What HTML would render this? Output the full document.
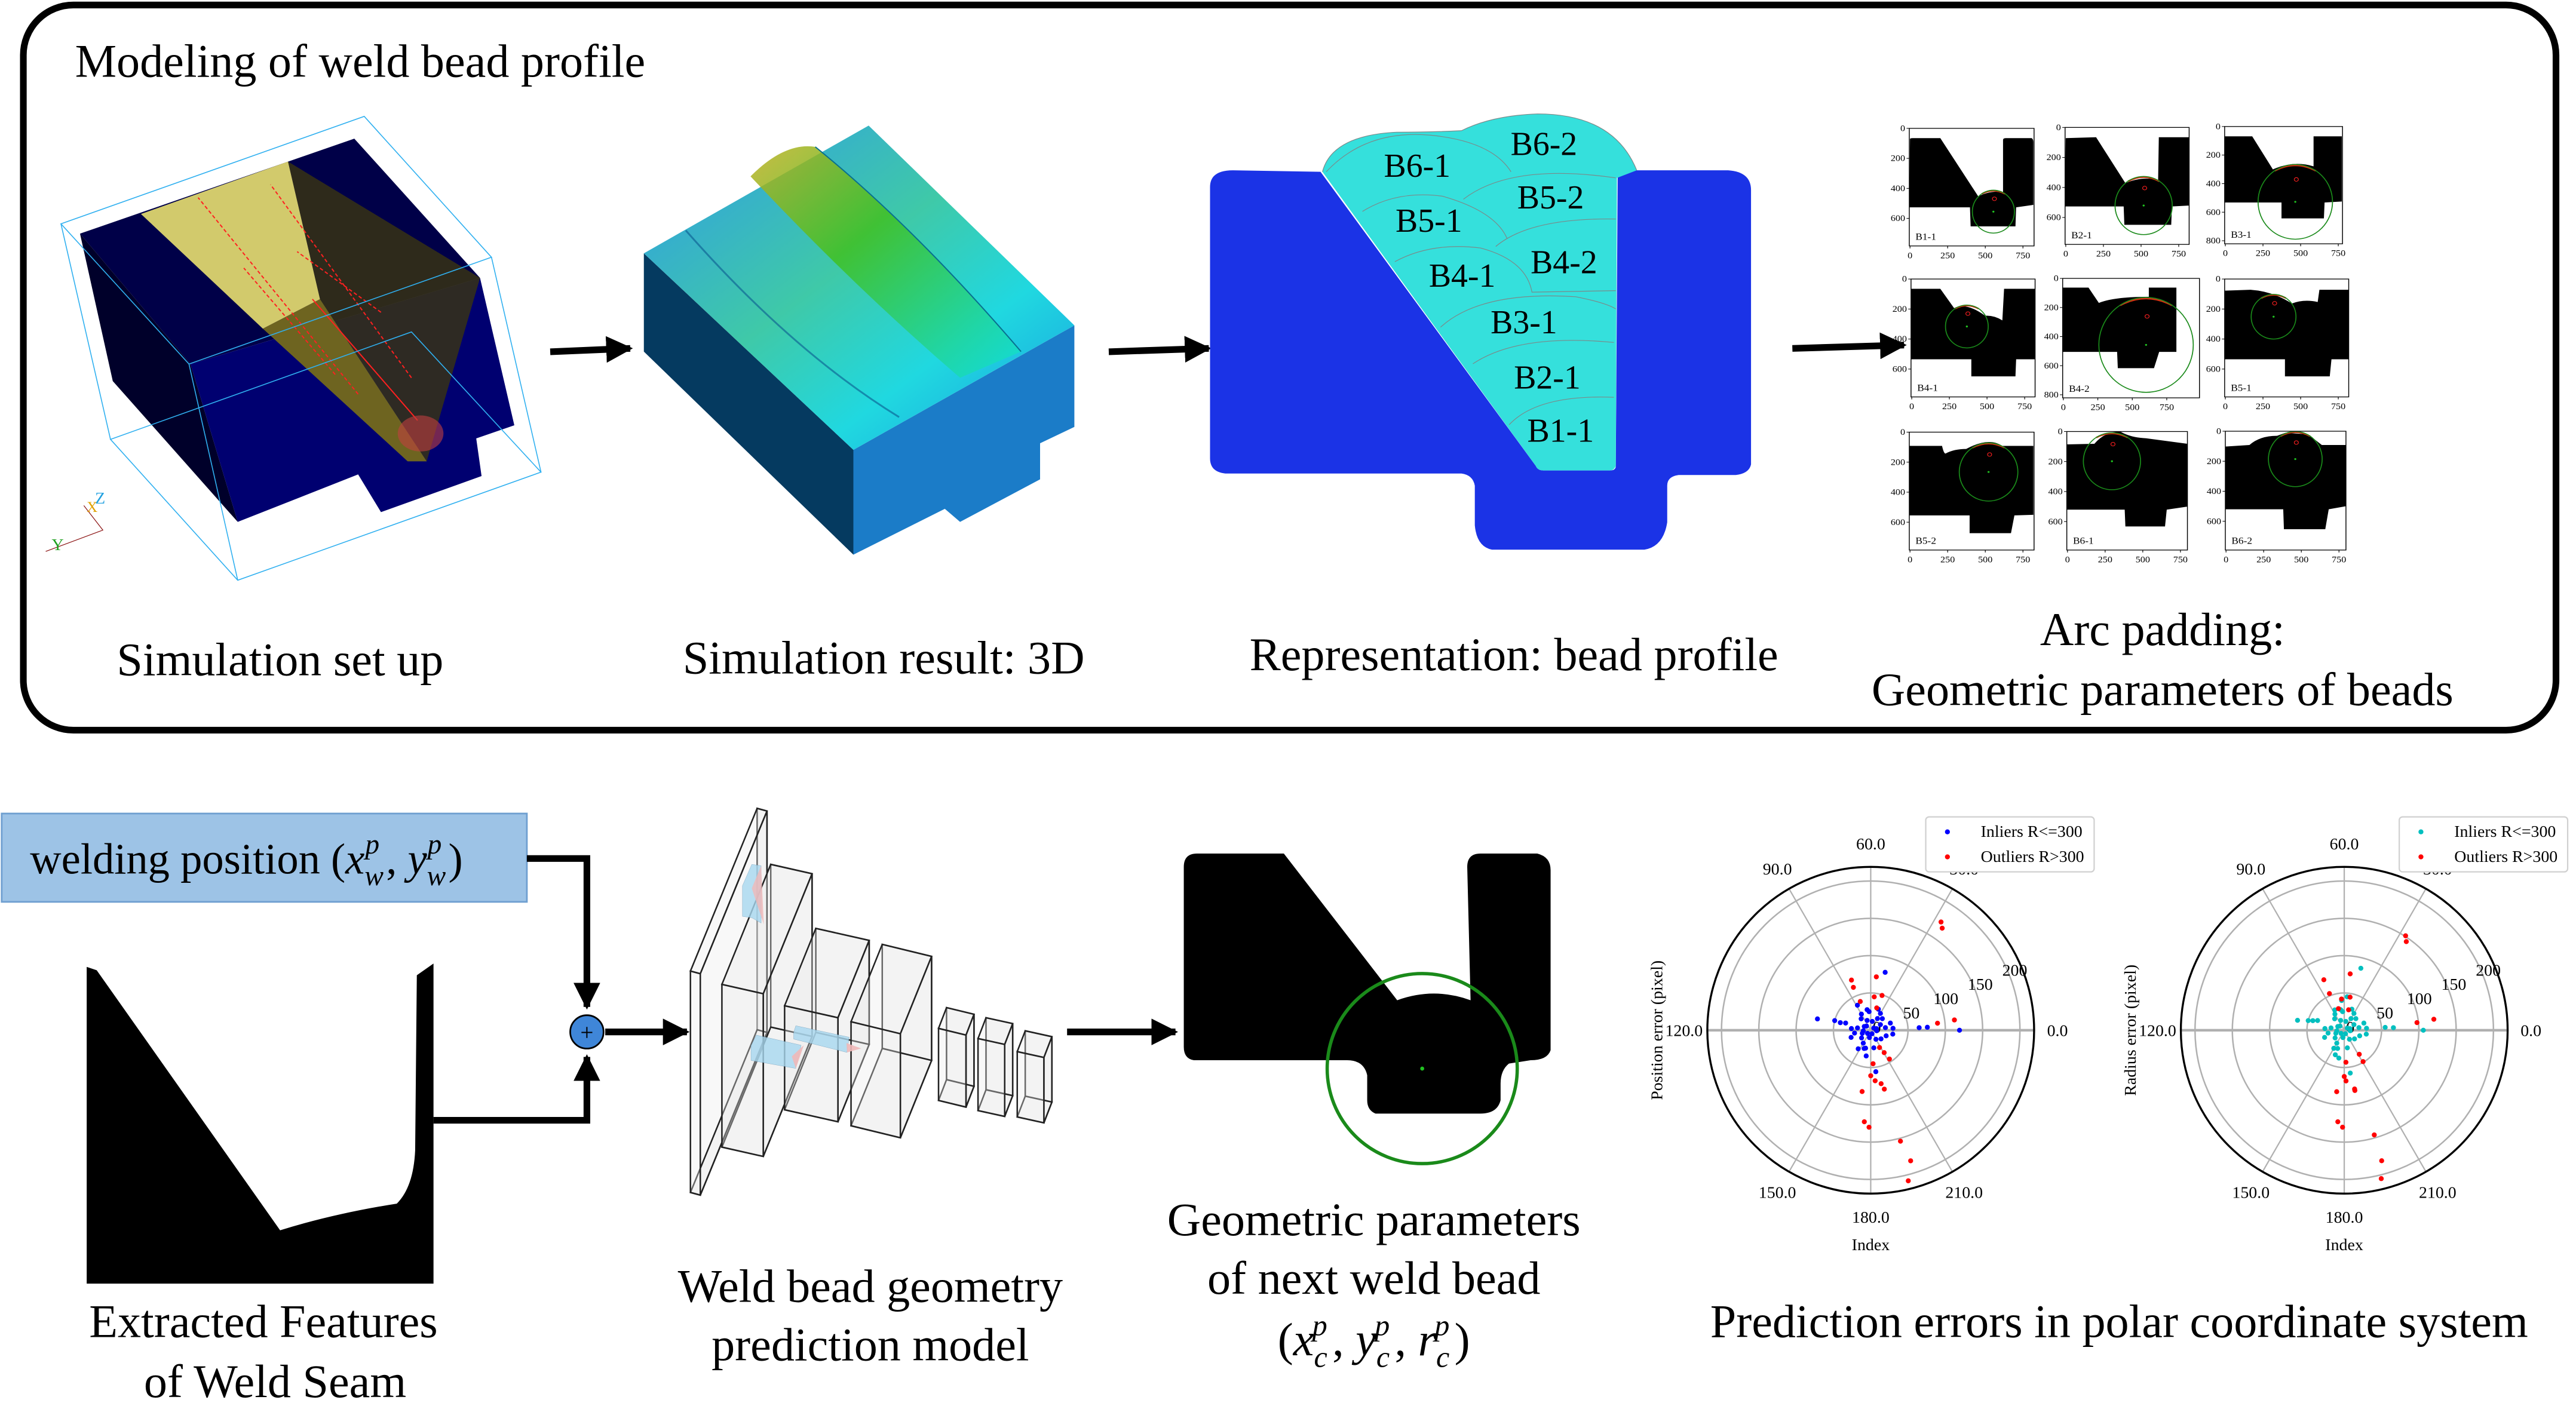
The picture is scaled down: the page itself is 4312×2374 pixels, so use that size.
<!DOCTYPE html>
<html><head><meta charset="utf-8"><style>
html,body{margin:0;padding:0;background:#fff;}
svg{display:block;}
text{font-family:"Liberation Serif",serif;fill:#000;}
</style></head><body>
<svg id="root" width="4312" height="2374" viewBox="0 0 1545 850.6" preserveAspectRatio="none" xmlns="http://www.w3.org/2000/svg">
<defs>
<marker id="ah" viewBox="0 0 10 10" refX="9" refY="5" markerWidth="4" markerHeight="4" orient="auto"><path d="M0,0 L10,5 L0,10 Z" fill="#000"/></marker>
<linearGradient id="simTop" x1="0" y1="0" x2="1" y2="1"><stop offset="0" stop-color="#2f9be8"/><stop offset="0.45" stop-color="#3fc9a8"/><stop offset="0.7" stop-color="#20d8e0"/><stop offset="1" stop-color="#1a9ae0"/></linearGradient>
<linearGradient id="ridge" x1="0" y1="0" x2="1" y2="1"><stop offset="0" stop-color="#c0b020"/><stop offset="0.4" stop-color="#40c020"/><stop offset="1" stop-color="#10e0d8"/></linearGradient>
</defs>

<rect x="14" y="3" width="1519" height="435" rx="30" fill="none" stroke="#000" stroke-width="4"/>
<text x="45" y="46" font-size="28">Modeling of weld bead profile</text>

<g>
<g transform="translate(0 53.7) scale(0.457 0.1965)">
<polygon points="105,440 465,150 630,575 250,838" fill="#000048"/>
<polygon points="105,440 250,838 312,1320 148,890" fill="#00002a"/>
<polygon points="250,838 630,575 675,1025 625,1065 632,1180 500,1290 470,1175 312,1320" fill="#000070"/>
<polygon points="185,380 378,220 420,640 345,730" fill="#d2ca6c"/>
<polygon points="378,220 630,575 560,1135 420,640" fill="#3a3410" opacity="0.8"/>
<polygon points="345,730 420,640 560,1135 535,1135" fill="#6e6420"/>
<g stroke="#ff2020" stroke-width="2" fill="none" stroke-dasharray="6 4">
<line x1="470" y1="930" x2="260" y2="330" vector-effect="non-scaling-stroke"/>
<line x1="540" y1="880" x2="355" y2="290" vector-effect="non-scaling-stroke"/>
<line x1="440" y1="870" x2="320" y2="545" vector-effect="non-scaling-stroke"/>
<line x1="500" y1="680" x2="390" y2="495" vector-effect="non-scaling-stroke"/>
</g>
<line x1="548" y1="1010" x2="410" y2="640" stroke="#ff2020" stroke-width="2" vector-effect="non-scaling-stroke"/>
<ellipse cx="552" cy="1050" rx="30" ry="55" fill="#c04040" opacity="0.6"/>
<g fill="none" stroke="#30b0f0" stroke-width="1.6">
<polygon points="80,410 478,82 645,512 248,838" vector-effect="non-scaling-stroke"/>
<polygon points="145,1068 540,740 710,1168 312,1498" vector-effect="non-scaling-stroke"/>
<line x1="80" y1="410" x2="145" y2="1068" vector-effect="non-scaling-stroke"/>
<line x1="248" y1="838" x2="312" y2="1498" vector-effect="non-scaling-stroke"/>
<line x1="645" y1="512" x2="710" y2="1168" vector-effect="non-scaling-stroke"/>
</g>
<g stroke="#8a1010" stroke-width="1.2" fill="none"><polyline points="60,1410 135,1345 110,1270" vector-effect="non-scaling-stroke"/></g>
</g>
<text x="57" y="302" font-size="10" style="fill:#20a0e0" font-family="Liberation Sans">Z</text>
<text x="52" y="307" font-size="9" style="fill:#e0a000" font-family="Liberation Sans">X</text>
<text x="31" y="330" font-size="10" style="fill:#20a020" font-family="Liberation Sans">Y</text>
</g>

<line x1="330" y1="211" x2="378" y2="209" stroke="#000" stroke-width="4" marker-end="url(#ah)"/>

<g transform="translate(0 53.7) scale(0.457 0.1965)">
<polygon points="845,500 1120,1100 1120,1420 845,800" fill="#053a60"/>
<polygon points="1120,1100 1410,720 1410,1030 1365,1080 1365,1190 1260,1320 1240,1280 1120,1420" fill="#1b7cc8"/>
<polygon points="845,500 1140,110 1410,720 1120,1100" fill="url(#simTop)"/>
<path d="M985,265 Q1030,160 1070,175 Q1200,420 1340,800 L1260,880 Q1120,600 985,265 Z" fill="url(#ridge)" opacity="0.85"/>
<path d="M1070,175 Q1200,420 1340,800" stroke="#087090" stroke-width="2" fill="none" vector-effect="non-scaling-stroke"/>
<path d="M900,430 Q1040,800 1180,1000" stroke="#0a5a90" stroke-width="3" fill="none" vector-effect="non-scaling-stroke" opacity="0.6"/>
</g>

<line x1="665" y1="211" x2="725" y2="209" stroke="#000" stroke-width="4" marker-end="url(#ah)"/>

<g>
<g transform="translate(716.6 53.7) scale(0.2285 0.1828)">
<path d="M40,320 Q40,265 100,265 L330,270 L895,1235 Q900,1250 915,1250 L1090,1250 Q1105,1250 1105,1235 L1110,290 Q1115,265 1140,265 L1400,265 Q1460,270 1460,330 L1460,1230 Q1455,1260 1420,1265 L1270,1265 Q1240,1270 1240,1300 L1240,1420 Q1230,1500 1180,1510 L780,1510 Q740,1500 735,1430 L735,1300 Q730,1265 700,1260 L80,1260 Q40,1255 40,1210 Z" fill="#1b33e6"/>
<path d="M335,270 Q360,150 530,140 Q620,140 700,135 Q780,85 900,80 Q1100,80 1160,265 L1108,290 L1105,1235 Q1100,1250 1090,1250 L915,1250 Q900,1250 895,1235 Z" fill="#35e0dc"/>
<g fill="none" stroke="#7a8a8a" stroke-width="1.2">
<path d="M825,1100 Q900,1000 1100,1010" vector-effect="non-scaling-stroke"/>
<path d="M730,900 Q850,800 1100,830" vector-effect="non-scaling-stroke"/>
<path d="M645,780 Q750,660 1000,680 Q1080,700 1105,720" vector-effect="non-scaling-stroke"/>
<path d="M525,565 Q620,500 750,520 Q870,560 885,665 L1105,660" vector-effect="non-scaling-stroke"/>
<path d="M790,515 Q880,420 1105,425" vector-effect="non-scaling-stroke"/>
<path d="M440,400 Q530,330 650,350 Q790,400 820,490" vector-effect="non-scaling-stroke"/>
<path d="M705,360 Q830,240 1105,290" vector-effect="non-scaling-stroke"/>
<path d="M345,270 Q450,130 620,150 Q780,170 830,270" vector-effect="non-scaling-stroke"/>
<path d="M335,270 Q360,150 530,140 Q620,140 700,135 Q780,85 900,80 Q1100,80 1160,265" vector-effect="non-scaling-stroke"/>
</g>
</g>
<g font-size="20" text-anchor="middle">
<text x="850" y="106">B6-1</text>
<text x="926" y="93">B6-2</text>
<text x="930" y="125">B5-2</text>
<text x="857" y="139">B5-1</text>
<text x="938" y="164">B4-2</text>
<text x="877" y="172">B4-1</text>
<text x="914" y="200">B3-1</text>
<text x="928" y="233">B2-1</text>
<text x="936" y="265">B1-1</text>
</g>
</g>

<line x1="1075" y1="209" x2="1142" y2="207" stroke="#000" stroke-width="4" marker-end="url(#ah)"/>

<g id="arcgrid" transform="translate(1128.6 64.5) scale(0.2067 0.1837)"></g>

<g font-size="28" text-anchor="middle">
<text x="168" y="405">Simulation set up</text>
<text x="530" y="404">Simulation result: 3D</text>
<text x="908" y="402">Representation: bead profile</text>
<text x="1297" y="387">Arc padding:</text>
<text x="1297" y="423">Geometric parameters of beads</text>
</g>

<rect x="1" y="488" width="315" height="53" fill="#9dc3e6" stroke="#6f9fd0" stroke-width="1"/>
<text x="18" y="524" font-size="26">welding position (<tspan font-style="italic">x</tspan><tspan font-size="17" font-style="italic" dy="7">w</tspan><tspan font-size="17" font-style="italic" dx="-11" dy="-19">p</tspan><tspan dx="4" dy="12">, </tspan><tspan font-style="italic">y</tspan><tspan font-size="17" font-style="italic" dy="7">w</tspan><tspan font-size="17" font-style="italic" dx="-11" dy="-19">p</tspan><tspan dx="4" dy="12">)</tspan></text>
<polyline points="316,515 352,515 352,604" fill="none" stroke="#000" stroke-width="4" marker-end="url(#ah)"/>
<polyline points="260,672 352,672 352,634" fill="none" stroke="#000" stroke-width="4" marker-end="url(#ah)"/>
<path d="M52,580 L58,582 L168,738 Q200,728 238,722 Q248,712 249,690 L250,585 L260,578 L260,770 L52,770 Z" fill="#000"/>
<circle cx="352" cy="619" r="10" fill="#3f86d8" stroke="#000" stroke-width="1"/>
<text x="352" y="624" font-size="14" text-anchor="middle" font-family="Liberation Sans">+</text>
<line x1="363" y1="619" x2="412" y2="619" stroke="#000" stroke-width="4" marker-end="url(#ah)"/>

<g id="cnn" transform="translate(394.1 480.1) scale(0.16)"></g>

<line x1="640" y1="619" x2="705" y2="619" stroke="#000" stroke-width="4" marker-end="url(#ah)"/>
<g>
<path d="M710,520 Q710,512 718,512 L770,512 L838,600 Q860,592 882,600 L880,520 Q880,512 888,512 L922,512 Q930,514 930,522 L930,630 Q928,636 918,636 L905,638 Q900,642 900,650 L900,660 Q898,668 888,668 L825,668 Q820,666 820,660 L820,645 Q818,636 808,636 L716,636 Q710,635 710,628 Z" fill="#000"/>
<circle cx="853" cy="641" r="57" fill="none" stroke="#1a8a1a" stroke-width="2"/>
<circle cx="853" cy="641" r="1.2" fill="#20c020"/>
</g>

<g font-size="28" text-anchor="middle">
<text x="158" y="802">Extracted Features</text>
<text x="165" y="838">of Weld Seam</text>
<text x="522" y="781">Weld bead geometry</text>
<text x="522" y="816">prediction model</text>
<text x="824" y="741">Geometric parameters</text>
<text x="824" y="776">of next weld bead</text>
<text x="824" y="813">(<tspan font-style="italic">x</tspan><tspan font-size="18" font-style="italic" dy="7">c</tspan><tspan font-size="18" font-style="italic" dx="-9" dy="-19">p</tspan><tspan dx="3" dy="12">, </tspan><tspan font-style="italic">y</tspan><tspan font-size="18" font-style="italic" dy="7">c</tspan><tspan font-size="18" font-style="italic" dx="-9" dy="-19">p</tspan><tspan dx="3" dy="12">, </tspan><tspan font-style="italic">r</tspan><tspan font-size="18" font-style="italic" dy="7">c</tspan><tspan font-size="18" font-style="italic" dx="-9" dy="-19">p</tspan><tspan dx="3" dy="12">)</tspan></text>
<text x="1271" y="802">Prediction errors in polar coordinate system</text>
</g>

<g id="polarL"></g>
<g id="polarR"></g>
</svg>

<script>
const posInlierAngle = [168,165,166,164,76,3,3,0,118,-106,-83,-100,-124,10,30,45,60,80,95,110,130,150,170,190,200,220,240,260,280,300,320,340,355,20,70,100,200,250,15,135,225,290,5,350,175,185,35,60,120];
const posInlierR     = [73,50,42,35,80,65,76,119,38,25,56,35,30,20,15,22,18,12,25,14,20,10,18,22,12,16,20,10,24,14,18,22,8,28,30,28,28,26,8,8,6,5,30,30,26,10,5,26,25];
const posOutlierAngle = [57,55,7,6,111,112,84,84,72,110,75,-63,-59,-57,-86,-90,-85,-79,-77,-98,-94,-91,-75,-73,-76];
const posOutlierR     = [173,167,113,90,72,62,72,45,49,41,31,26,35,46,45,61,68,73,81,83,123,130,154,183,208];
const radInlierAngle = [168,165,163,160,75,4,3,0,-82,-101,115,-110,-120,10,30,45,60,80,95,110,130,150,170,190,200,220,240,260,280,300,320,340,355,20,70,100,200,250,15,135,225,290,5,350,175,185,35,60,120,85,95];
const radInlierR     = [64,50,44,38,86,55,66,106,58,38,30,35,28,20,15,22,18,12,25,14,20,10,18,22,12,16,20,10,24,14,18,22,8,28,30,28,28,26,8,8,6,5,30,30,26,10,5,26,25,45,40];
const radOutlierAngle = [57,55,7,6,112,84,112,80,95,105,78,-58,-59,-87,-90,-88,-80,-80,-97,-94,-91,-74,-74,-76];
const radOutlierR     = [151,145,121,98,73,76,53,45,42,30,28,38,49,43,62,68,80,82,83,123,130,146,182,205];
const ringValues = [50,100,150,200];
const angleTickLabels = ["0.0","30.0","60.0","90.0","120.0","150.0","180.0","210.0"];
const angleTickDirs = [0,60,90,120,180,240,270,300];

const NS = "http://www.w3.org/2000/svg";
function mk(tag, attrs, parent){const e=document.createElementNS(NS,tag);for(const k in attrs)e.setAttribute(k,attrs[k]);parent.appendChild(e);return e;}

function polar(gid, cx, cy, inA, inR, outA, outR, inColor, ytitle){
  const g=document.getElementById(gid);
  const R=98, rmax=219;
  const rs=v=>v/rmax*R;
  const px=(a,r)=>cx+rs(r)*Math.cos(a*Math.PI/180);
  const py=(a,r)=>cy-rs(r)*Math.sin(a*Math.PI/180);
  ringValues.forEach(v=>{
    const c=mk('circle',{cx:cx,cy:cy,r:rs(v),fill:'none',stroke:'#b0b0b0','stroke-width':0.9},g);
    
    
  });
  [0,60,90,120].forEach(a=>{
    const l=mk('line',{x1:px(a,rmax),y1:py(a,rmax),x2:px(a+180,rmax),y2:py(a+180,rmax),stroke:'#b0b0b0','stroke-width':a===0?1.6:0.8},g);
    
    
  });
  const oc=mk('circle',{cx:cx,cy:cy,r:R,fill:'none',stroke:'#000','stroke-width':1.2},g);
  
  
  angleTickLabels.forEach((t,i)=>{
    const a=angleTickDirs[i], rr=R+14;
    const tx=mk('text',{x:cx+rr*Math.cos(a*Math.PI/180),y:cy-rr*Math.sin(a*Math.PI/180)+3.5,'font-size':10,'text-anchor':'middle'},g);
    tx.textContent=t;
    
    
  });
  [0].concat(ringValues).forEach(v=>{
    const a=22.5, r=rs(v)+4;
    const tx=mk('text',{x:cx+r*Math.cos(a*Math.PI/180),y:cy-r*Math.sin(a*Math.PI/180)+3,'font-size':10,'text-anchor':'middle'},g);
    tx.textContent=String(v);
    
    
  });
  inA.forEach((a,i)=>{
    const c=mk('circle',{cx:px(a,inR[i]),cy:py(a,inR[i]),r:1.5,fill:inColor},g);
    
    
  });
  outA.forEach((a,i)=>{
    const c=mk('circle',{cx:px(a,outR[i]),cy:py(a,outR[i]),r:1.5,fill:'#ff0000'},g);
    
    
  });
  const yt=mk('text',{x:0,y:0,'font-size':10,'text-anchor':'middle',transform:`translate(${cx-125},${cy}) rotate(-90)`},g);
  yt.textContent=ytitle;
  
  
  const xt=mk('text',{x:cx,y:cy+132,'font-size':10,'text-anchor':'middle'},g);
  xt.textContent='Index';
  
  
  const lg=mk('g',{},g);
  
  
  mk('rect',{x:cx+33,y:cy-128,width:101,height:33,rx:2,fill:'#fff',stroke:'#d0d0d0','stroke-width':0.8},lg);
  mk('circle',{cx:cx+46,cy:cy-119,r:1.5,fill:inColor},lg);
  mk('circle',{cx:cx+46,cy:cy-104,r:1.5,fill:'#ff0000'},lg);
  const t1=mk('text',{x:cx+66,y:cy-116,'font-size':10},lg); t1.textContent='Inliers R<=300';
  
  
  const t2=mk('text',{x:cx+66,y:cy-101,'font-size':10},lg); t2.textContent='Outliers R>300';
  
  
}
polar('polarL',1122,618,posInlierAngle,posInlierR,posOutlierAngle,posOutlierR,'#0000ff','Position error (pixel)');
polar('polarR',1406,618,radInlierAngle,radInlierR,radOutlierAngle,radOutlierR,'#00bfbf','Radius error (pixel)');

const beadNames = ["B1-1","B2-1","B3-1","B4-1","B4-2","B5-1","B5-2","B6-1","B6-2"];
const shapes = [
"M2,35 Q2,32 10,32 L90,32 L200,222 Q240,200 272,210 L272,38 Q272,32 280,32 L355,32 Q360,35 360,45 L360,250 L310,258 L308,320 L178,320 L176,258 L0,258 Z",
"M2,35 L90,32 L175,182 Q225,158 270,172 L272,32 L360,32 L360,255 L310,258 L308,318 L172,318 L170,258 L0,258 Z",
"M0,32 L80,32 L140,140 Q200,110 258,130 L258,32 L340,32 L340,245 L290,248 L288,300 L165,300 L165,248 L0,248 Z",
"M0,32 L85,32 L125,95 Q160,75 215,120 Q240,118 265,135 L270,32 L360,32 L360,262 L305,262 L303,318 L175,318 L175,262 L0,262 Z",
"M0,30 L75,30 L105,80 Q150,60 250,60 L250,30 L330,30 L330,240 L280,240 L265,293 L160,293 L158,240 L0,240 Z",
"M0,38 L75,35 Q140,40 195,80 Q230,65 270,75 L275,35 L360,35 L360,262 L310,262 L305,318 L175,318 L175,262 L0,262 Z",
"M0,45 L95,45 Q100,70 105,70 Q130,55 165,55 Q230,15 270,45 L360,45 L360,270 L305,272 L295,330 L175,330 L175,272 L0,272 Z",
"M0,42 L80,40 Q110,0 155,0 Q185,20 230,22 L350,40 L350,245 L290,255 L285,310 L170,310 L168,255 L0,255 Z",
"M0,50 L70,45 Q100,15 150,15 L175,5 L240,10 L280,45 L350,45 L350,245 L300,255 L290,320 L170,320 L168,255 L0,255 Z"];
const frames = [[80,68,362,384],[532,65,360,382],[995,62,342,383],[85,560,360,385],[525,558,397,390],[995,560,360,385],[80,1060,362,385],[537,1058,350,387],[997,1057,350,388]];
const circ = [[244,272,61,70],[228,255,83,95],[205,246,108,122],[162,155,62,70],[242,217,137,155],[142,123,65,73],[230,130,85,95],[131,97,83,93],[203,91,78,90]];
const yTickMax = [600,600,800,600,800,600,600,600,600];
const ag=document.getElementById('arcgrid');
frames.forEach((f,i)=>{
  const [x,y,w,h]=f;
  const g=mk('g',{},ag);
  
  
  mk('path',{d:shapes[i],fill:'#000',transform:`translate(${x},${y})`},g);
  const [ccx,ccy,rx,ry]=circ[i];
  mk('path',{d:`M${x+ccx-rx*0.55},${y+ccy-ry*0.83} Q${x+ccx},${y+ccy-ry*1.12} ${x+ccx+rx*0.55},${y+ccy-ry*0.83}`,fill:'none',stroke:'#d03010','stroke-width':5},g);
  mk('ellipse',{cx:x+ccx,cy:y+ccy,rx:rx,ry:ry,fill:'none',stroke:'#1a8a1a','stroke-width':3},g);
  mk('circle',{cx:x+ccx,cy:y+ccy,r:3,fill:'#20c020'},g);
  mk('circle',{cx:x+ccx+3,cy:y+ccy-ry*0.6,r:6,fill:'none',stroke:'#ff2020','stroke-width':2},g);
  mk('rect',{x:x,y:y,width:w,height:h,fill:'none',stroke:'#000','stroke-width':2.5},g);
  const lab=mk('text',{x:x+18,y:y+h-20,'font-size':30},g);
  lab.textContent=beadNames[i];
  const ymax=yTickMax[i];
  for(let v=0;v<=ymax;v+=200){
    const yy=y+v*(ymax===800?(h-10)/800:0.49);
    mk('line',{x1:x-8,y1:yy,x2:x,y2:yy,stroke:'#000','stroke-width':2},g);
    const t=mk('text',{x:x-12,y:yy+9,'font-size':28,'text-anchor':'end'},g); t.textContent=v;
  }
  const xs=(i===4)?0.4:0.437;
  for(let v=0;v<=750;v+=250){
    const xx=x+2+v*xs;
    mk('line',{x1:xx,y1:y+h,x2:xx,y2:y+h+8,stroke:'#000','stroke-width':2},g);
    const t=mk('text',{x:xx,y:y+h+40,'font-size':28,'text-anchor':'middle'},g); t.textContent=v;
  }
});

const cg=document.getElementById('cnn');
const boxes=[[125,640,37,830,10,250,-610],[243,690,155,610,35,183,-450],[478,770,200,390,45,117,-290],[727,830,185,390,45,117,-290],[1055,855,103,270,25,30,-78],[1203,893,100,270,22,30,-78],[1350,942,100,245,22,30,-78]];
boxes.forEach((b,i)=>{
  const [x,y,w,h,s,dx,dy]=b;
  const g=mk('g',{},cg);
  
  
  const F=[[x,y],[x+w,y+s],[x+w,y+s+h],[x,y+h]];
  const B=F.map(p=>[p[0]+dx,p[1]+dy]);
  const st={fill:'rgba(235,235,235,0.35)',stroke:'#222','stroke-width':2.5,'vector-effect':'non-scaling-stroke'};
  const poly=pts=>pts.map(p=>p.join(',')).join(' ');
  mk('polygon',Object.assign({points:poly(B)},st),g);
  mk('polygon',Object.assign({points:poly([F[0],B[0],B[1],F[1]])},st),g);
  mk('polygon',Object.assign({points:poly([F[1],B[1],B[2],F[2]])},st),g);
  mk('polygon',Object.assign({points:poly([F[3],B[3],B[2],F[2]])},st),g);
  mk('polygon',Object.assign({points:poly(F)},st),g);
});
mk('polygon',{points:'320,320 355,240 390,245 390,460 355,440 320,435',fill:'#a8d8f0',opacity:0.8,stroke:'#6090b0'},cg);
mk('polygon',{points:'355,330 390,245 400,465',fill:'#f0b8b8',opacity:0.8},cg);
mk('polygon',{points:'352,920 372,880 540,918 520,1005 352,975',fill:'#a8d8f0',opacity:0.8,stroke:'#6090b0'},cg);
mk('polygon',{points:'505,960 550,918 520,1005',fill:'#f0b8b8',opacity:0.9},cg);
mk('polygon',{points:'512,870 520,845 720,888 712,945 512,895',fill:'#a8d8f0',opacity:0.8,stroke:'#6090b0'},cg);
mk('polygon',{points:'710,910 765,930 712,945',fill:'#f0b8b8',opacity:0.9},cg);
</script>
</body></html>
